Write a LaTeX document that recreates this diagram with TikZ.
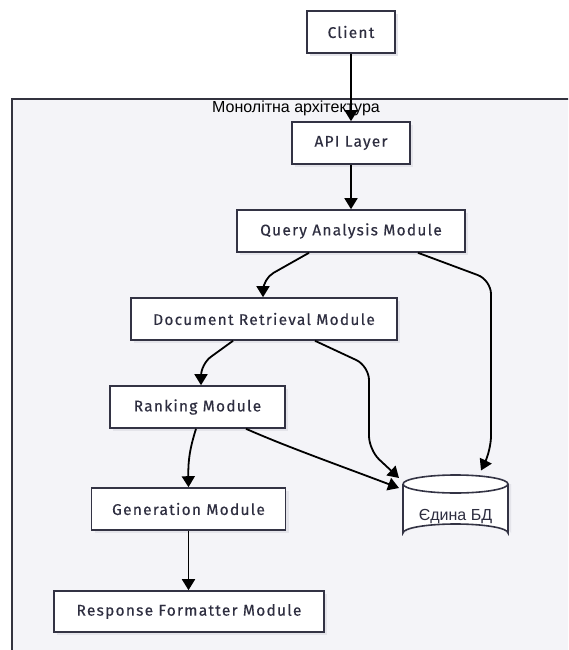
\documentclass[tikz,border=0pt]{standalone}
\usepackage{fontspec}
\setmainfont{Fira Sans}
\newfontfamily\arialf{Liberation Sans}
\usetikzlibrary{arrows.meta,calc}
\definecolor{sgbg}{HTML}{F4F4F8}
\definecolor{sgline}{HTML}{33333F}
\definecolor{nline}{HTML}{333344}
\definecolor{ntext}{HTML}{2E2E40}
\definecolor{shadowc}{HTML}{E4E4EA}
\tikzset{
  box/.style={draw=nline, line width=1.6pt, fill=white, text=ntext,
    font=\fontsize{15.5}{18}\selectfont\addfontfeatures{LetterSpace=8,FakeBold=0.3}, inner sep=0pt, minimum height=42},
  arr/.style={line width=1.8pt, draw=black, -{Triangle[width=13,length=11]}},
}
\begin{document}
\begin{tikzpicture}[x=1pt,y=-1pt]
\useasboundingbox (0,0) rectangle (568,650);
\clip (0,0) rectangle (568,650);
% subgraph
\draw[fill=sgbg, draw=sgline, line width=1.3pt] (12,99) rectangle (600,700);
\node[font=\arialf\fontsize{16}{18}\selectfont, text=black] (title) at (296,108) {Монолітна архітектура};
% shadows
\fill[shadowc] (310,14) rectangle (398,56);
\fill[shadowc] (295,125) rectangle (413,167);
\fill[shadowc] (240,213) rectangle (468,255);
\fill[shadowc] (134,301) rectangle (400,343);
\fill[shadowc] (113,389) rectangle (288,431);
\fill[shadowc] (95,491) rectangle (289,533);
\fill[shadowc] (57,594) rectangle (327,635);
% nodes
\node[box, minimum width=88] (client) at (351,32) {Client};
\node[box, minimum width=118] (api) at (351,143) {API Layer};
\node[box, minimum width=228] (qam) at (351,231) {Query Analysis Module};
\node[box, minimum width=266] (drm) at (264,319) {Document Retrieval Module};
\node[box, minimum width=175] (rank) at (197.5,407) {Ranking Module};
\node[box, minimum width=194] (gen) at (188.5,509) {Generation Module};
\node[box, minimum width=270, minimum height=41] (resp) at (189,611.5) {Response Formatter Module};
% database cylinder
\coordinate (db) at (455.5,508);
\fill[shadowc] ($(db)+(-49.5,-24)$) -- ($(db)+(-49.5,25)$) arc[start angle=180, end angle=360, x radius=52.5, y radius=9] -- ($(db)+(55.5,-24)$) -- cycle;
\draw[draw=nline, line width=1.6pt, fill=white]
  ($(db)+(-52.5,-24)$) -- ($(db)+(-52.5,25)$)
  arc[start angle=180, end angle=360, x radius=52.5, y radius=9]
  -- ($(db)+(52.5,-24)$)
  arc[start angle=0, end angle=-180, x radius=52.5, y radius=9];
\draw[draw=nline, line width=1.6pt]
  ($(db)+(-52.5,-24)$) arc[start angle=180, end angle=0, x radius=52.5, y radius=9];
\node[font=\arialf\fontsize{16}{18}\selectfont, text=ntext] (dbl) at ($(db)+(0,9)$) {Єдина БД};
% connectors
\draw[arr] (client.south) -- (api.north);
\draw[arr] (api.south) -- (qam.north);
\draw[arr, rounded corners=12] ($(qam.south)+(-42,0)$) -- ($(qam.south)+(-88,26)$) -- (drm.north -| 263,0);
\draw[arr, rounded corners=14] ($(qam.south)+(67,0)$) -- (491,280) -- (491,450) -- ($(db)+(25.5,-37.5)$);
\draw[arr, rounded corners=12] ($(drm.south)+(-31,0)$) -- (201,364) -- (rank.north -| 201,0);
\draw[arr, rounded corners=14] ($(drm.south)+(51,0)$) -- (369,366) -- (369,450) -- ($(db)+(-56.5,-30)$);
\draw[arr] ($(rank.south)+(-1.5,0)$) .. controls (190,448) and (188,460) .. (gen.north);
\draw[arr] ($(rank.south)+(48.5,0)$) .. controls (285,446) and (330,462) .. ($(db)+(-56.5,-20)$);
\draw[arr] (gen.south) -- (resp.north -| gen.south);
\end{tikzpicture}
\end{document}
